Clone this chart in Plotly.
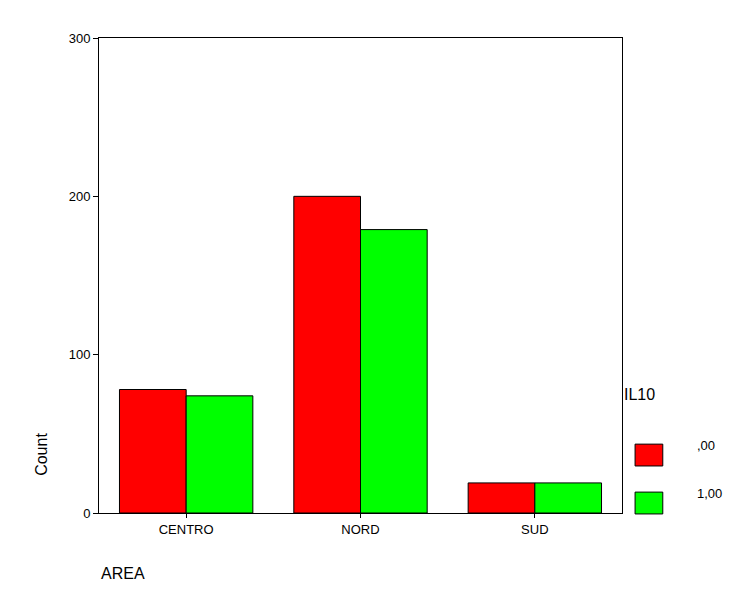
import plotly.graph_objects as go

areas = ["CENTRO", "NORD", "SUD"]
il10_0 = [78, 200, 19]
il10_1 = [74, 179, 19]
legend_labels = [",00", "1,00"]
colors = ["#ff0000", "#00ff00"]

fig = go.Figure()
fig.add_trace(go.Bar(x=areas, y=il10_0, name=legend_labels[0], marker_color=colors[0],
                     marker_line_color="black", marker_line_width=1))
fig.add_trace(go.Bar(x=areas, y=il10_1, name=legend_labels[1], marker_color=colors[1],
                     marker_line_color="black", marker_line_width=1))

font = dict(family="Liberation Sans, Arial", size=13, color="black")
fig.update_layout(
    width=736, height=607, barmode="group", bargap=0.235, bargroupgap=0,
    margin=dict(l=91, r=122, t=30, b=102),
    plot_bgcolor="white", paper_bgcolor="white", font=font, showlegend=False,
)
fig.update_xaxes(showline=True, linecolor="black", mirror=True, ticks="outside",
                 ticklen=4, tickcolor="black", showgrid=False)
fig.update_yaxes(range=[0, 300], tickvals=[0, 100, 200, 300], showline=True,
                 linecolor="black", mirror=True, ticks="outside", ticklen=5,
                 tickcolor="black", showgrid=False, zeroline=False)

# manual legend (large swatches as in the reference)
fig.add_annotation(x=1.0, y=0.227, xref="paper", yref="paper", text="IL10",
                   showarrow=False, xanchor="left", font=dict(size=16))
for i, (lab, c) in enumerate(zip(legend_labels, colors)):
    y0 = 0.099 - i * 0.101
    fig.add_shape(type="rect", xref="paper", yref="paper", x0=1.025, x1=1.078,
                  y0=y0, y1=y0 + 0.046, fillcolor=c, line=dict(color="black", width=1))
    fig.add_annotation(x=1.14, y=y0 + 0.023, xref="paper", yref="paper", text=lab,
                       showarrow=False, xanchor="left", font=dict(size=13))

fig.add_annotation(x=-0.13, y=0.074, xref="paper", yref="paper", text="Count",
                   showarrow=False, textangle=-90, font=dict(size=16))
fig.add_annotation(x=0.0, y=-0.15, xref="paper", yref="paper", text="AREA",
                   showarrow=False, xanchor="left", font=dict(size=16))

fig.write_html("out.html")
